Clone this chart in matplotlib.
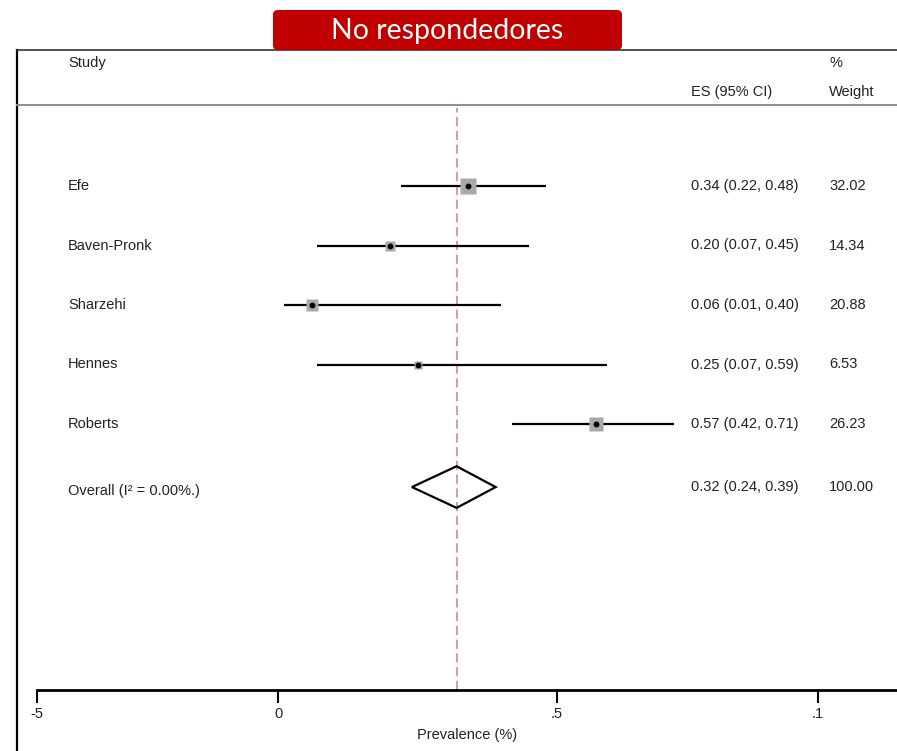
import numpy as np
import matplotlib
matplotlib.use("Agg")
import matplotlib.pyplot as plt
from matplotlib.patches import FancyBboxPatch, Polygon
from matplotlib.lines import Line2D
from matplotlib.transforms import blended_transform_factory

# ── Data ─────────────────────────────────────────────────────
studies = ["Efe", "Baven-Pronk", "Sharzehi", "Hennes", "Roberts"]
es = [0.34, 0.20, 0.06, 0.25, 0.57]
ci_low = [0.22, 0.07, 0.01, 0.07, 0.42]
ci_high = [0.48, 0.45, 0.40, 0.59, 0.71]
weights = [32.02, 14.34, 20.88, 6.53, 26.23]

overall_label = "Overall (I² = 0.00%.)"
overall_es = 0.32
overall_low = 0.24
overall_high = 0.39
overall_weight = 100.00

tick_values = [-0.432, 0, 0.5, 0.968]
tick_labels = ["-5", "0", ".5", ".1"]

# ── Figure setup (pixel helpers) ─────────────────────────────
W, H = 897, 751
fig = plt.figure(figsize=(W / 100, H / 100), dpi=100)
plt.rcParams["font.family"] = ["Liberation Sans", "DejaVu Sans"]


def fx(px):
    return px / W


def fy(py):
    return 1 - py / H


ax = fig.add_axes([fx(37), fy(690), fx(897) - fx(37), fy(108) - fy(690)])
zero_px, scale = 278, 558
ax.set_xlim((37 - zero_px) / scale, (897 - zero_px) / scale)
row_top, row_step = 186, 59.5
ax.set_ylim((690 - row_top) / row_step, (108 - row_top) / row_step)

for s in ["top", "left", "right"]:
    ax.spines[s].set_visible(False)
ax.spines["bottom"].set_linewidth(2)
ax.set_yticks([])
ax.set_xticks(tick_values)
ax.set_xticklabels(tick_labels, fontsize=10.5, color="#222222")
ax.tick_params(axis="x", length=9.5, width=1.5, pad=3)
ax.set_xlabel("Prevalence (%)", fontsize=10.5, color="#222222", labelpad=5)

# reference line at the pooled estimate
ax.axvline(overall_es, color="#cc7f8f", lw=1.1, ls=(0, (6, 3)), zorder=1)

rows = np.arange(len(studies))
# CI lines
ax.hlines(rows, ci_low, ci_high, color="black", lw=1.6, zorder=2)
# weight boxes (area ~ weight)
box_sizes = 2.0 * np.sqrt(weights)
for r, x, b in zip(rows, es, box_sizes):
    ax.plot(x, r, marker="s", ms=b, color="#a9a9a9", mec="none", zorder=3)
ax.plot(es, rows, "o", color="black", ms=3.2, zorder=4)

# pooled diamond
y_ov = len(studies) + 0.06
half_h = 0.35
diamond = Polygon([[overall_low, y_ov], [overall_es, y_ov - half_h],
                   [overall_high, y_ov], [overall_es, y_ov + half_h]],
                  closed=True, fill=False, edgecolor="black", lw=1.6, zorder=3)
ax.add_patch(diamond)

# ── Text columns ─────────────────────────────────────────────
tr = blended_transform_factory(fig.transFigure, ax.transData)
txt = dict(fontsize=10.5, color="#222222", va="center", transform=tr, clip_on=False)
for r, name, e, lo, hi, w in zip(rows, studies, es, ci_low, ci_high, weights):
    ax.text(fx(68), r, name, **txt)
    ax.text(fx(691), r, f"{e:.2f} ({lo:.2f}, {hi:.2f})", **txt)
    ax.text(fx(829), r, f"{w:.2f}", **txt)
ax.text(fx(68), len(studies) + 0.13, overall_label, **txt)
ax.text(fx(691), len(studies) + 0.06, f"{overall_es:.2f} ({overall_low:.2f}, {overall_high:.2f})", **txt)
ax.text(fx(829), len(studies) + 0.06, f"{overall_weight:.2f}", **txt)

# header
hdr = dict(fontsize=10.5, color="#222222", va="center")
fig.text(fx(68), fy(63), "Study", **hdr)
fig.text(fx(829), fy(63), "%", **hdr)
fig.text(fx(691), fy(92), "ES (95% CI)", **hdr)
fig.text(fx(829), fy(92), "Weight", **hdr)

# frame and header separator
fig.add_artist(Line2D([fx(17), fx(17)], [fy(50), fy(751)], color="black", lw=1.6))
fig.add_artist(Line2D([fx(17), fx(897)], [fy(50), fy(50)], color="#333333", lw=1.2))
fig.add_artist(Line2D([fx(17), fx(897)], [fy(105), fy(105)], color="#8c8c8c", lw=1.4))

# red title badge
badge = FancyBboxPatch((fx(273), fy(50)), fx(349), fy(10) - fy(50),
                       boxstyle="round,pad=0,rounding_size=0.006",
                       transform=fig.transFigure, facecolor="#c00000",
                       edgecolor="none", zorder=5)
fig.add_artist(badge)
fig.text(fx(447), fy(31), "No respondedores", fontsize=20.5, color="white",
         ha="center", va="center", family=["Lato", "DejaVu Sans"], zorder=6)

fig.savefig("out.png", dpi=100)
